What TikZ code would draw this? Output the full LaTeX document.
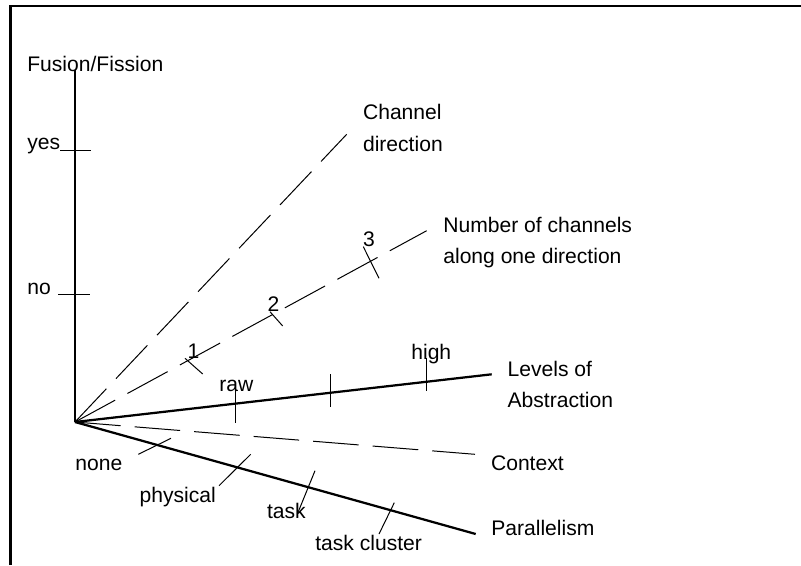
\documentclass[tikz,border=0pt]{standalone}
\usepackage{fontspec}
\setmainfont{Liberation Sans}
\usetikzlibrary{calc}
\tikzset{
	axis/.style={line width=0.45mm},
	dashaxis/.style={line width=0.2mm, dash pattern=on 26pt off 8pt},
	tickmark/.style={line width=0.2mm},
	lbl/.style={anchor=base west, inner sep=0pt, align=left, font=\fontsize{12}{17.8}\selectfont}
}

\begin{document}
\begin{tikzpicture}[x=0.02cm, y=-0.02cm]
			%%%%% START %%%%%
			\useasboundingbox (0, 0) rectangle (801, 565);
			
			\draw[line width=0.5mm] (10.5, 565) -- (10.5, 6) -- (801, 6);
			
			\coordinate (O) at (75, 422);
			\coordinate (fusEnd) at (75, 70);
			\coordinate (chanEnd) at (346.7, 134.3);
			\coordinate (numEnd) at (426.7, 230.7);
			\coordinate (absEnd) at (491.7, 374.3);
			\coordinate (ctxEnd) at (475, 454.3);
			\coordinate (parEnd) at (475.7, 534);
			
			\draw[axis] (O) -- (fusEnd);
			\draw[dashaxis] (O) -- (chanEnd);
			\draw[dashaxis] (O) -- (numEnd);
			\draw[axis] (O) -- (absEnd);
			\draw[dashaxis] (O) -- (ctxEnd);
			\draw[axis] (O) -- (parEnd);
			
			% two-line labels sit on the baseline of their last line
			\node[lbl] (fusLbl) at (27, 71) {Fusion/Fission};
			\node[lbl] (chanLbl) at (362.7, 151) {Channel\\direction};
			\node[lbl] (numLbl) at (443, 263.3) {Number of channels\\along one direction};
			\node[lbl] (absLbl) at (507.3, 407.3) {Levels of\\Abstraction};
			\node[lbl] (ctxLbl) at (490.7, 470.7) {Context};
			\node[lbl] (parLbl) at (491, 535) {Parallelism};
			
			% fusion/fission
			\draw[tickmark] (60, 150.7) -- (90.7, 150.7);
			\draw[tickmark] (58, 294.5) -- (90, 294.5);
			\node[lbl] (yesLbl) at (27, 149.5) {yes};
			\node[lbl] (noLbl) at (27, 294.5) {no};
			
			% number of channels
			\draw[tickmark] (185, 358.3) -- (202.7, 374);
			\draw[tickmark] (270, 311.7) -- (282.7, 326);
			\draw[tickmark] (363.3, 246.7) -- (379, 278.3);
			\node[lbl] (oneLbl) at (187.3, 358.3) {1};
			\node[lbl] (twoLbl) at (267.3, 311.7) {2};
			\node[lbl] (threeLbl) at (362.7, 246.7) {3};
			
			% abstraction
			\draw[tickmark] (235, 390) -- (235, 422.7);
			\draw[tickmark] (330.7, 374) -- (330.7, 406.7);
			\draw[tickmark] (426.7, 358) -- (426.7, 390.7);
			\node[lbl] (rawLbl) at (219, 391) {raw};
			\node[lbl] (highLbl) at (411, 359.3) {high};
			
			% parallelism
			\draw[tickmark] (138.3, 454.3) -- (171, 438.3);
			\draw[tickmark] (219, 485.7) -- (250.7, 454.3);
			\draw[tickmark] (298.3, 511.7) -- (315, 470.7);
			\draw[tickmark] (379, 534) -- (394.3, 502.7);
			\node[lbl] (noneLbl) at (75, 470.7) {none};
			\node[lbl] (physLbl) at (139.3, 502.7) {physical};
			\node[lbl] (taskLbl) at (266.7, 518.3) {task};
			\node[lbl] (clusLbl) at (315, 550) {task cluster};
			
			%%%%% END %%%%%
\end{tikzpicture}
\end{document}
